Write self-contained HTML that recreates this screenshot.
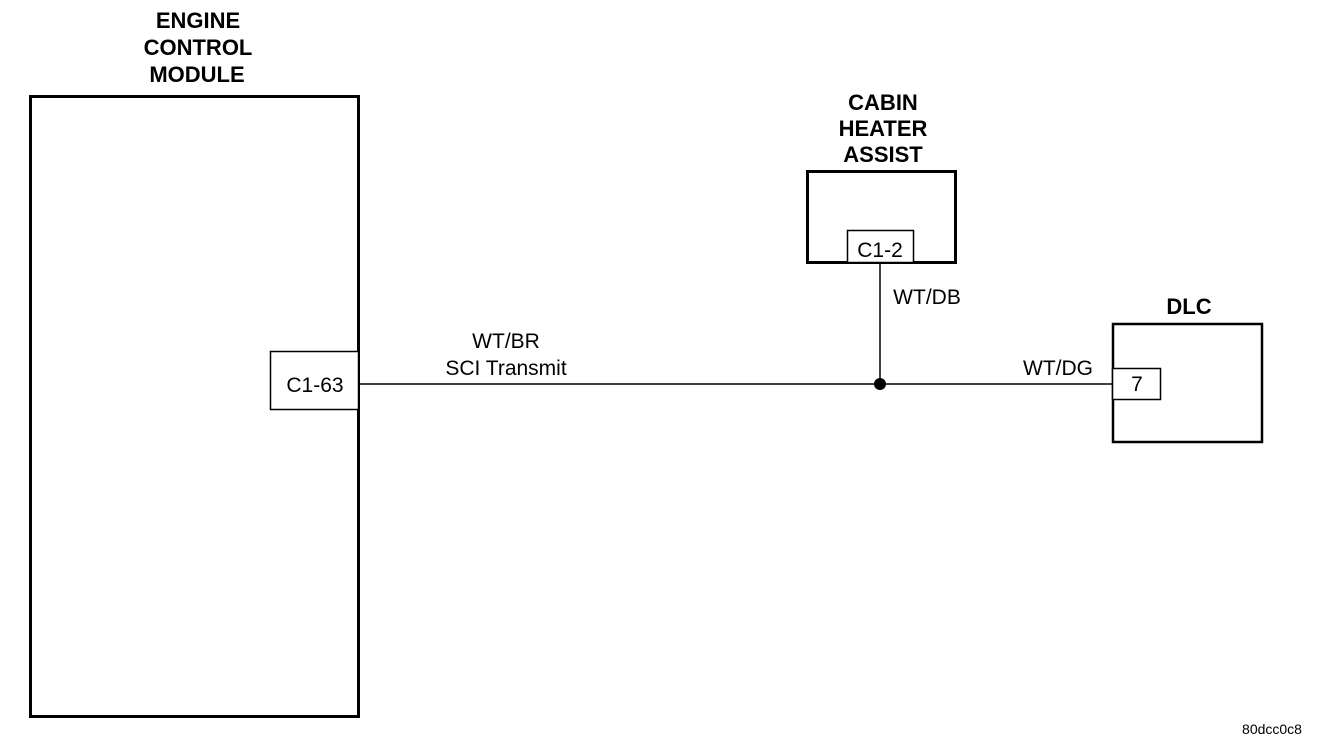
<!DOCTYPE html>
<html><head><style>
body{margin:0;background:#fff;}
svg{display:block;font-family:"Liberation Sans",Arial,sans-serif;}
</style></head><body>
<svg width="1328" height="752" viewBox="0 0 1328 752">
<rect width="1328" height="752" fill="#fff"/>
<g font-weight="bold" font-size="22" text-anchor="middle" fill="#000">
<text x="198" y="28">ENGINE</text>
<text x="198" y="55">CONTROL</text>
<text x="197" y="82">MODULE</text>
<text x="883" y="110">CABIN</text>
<text x="883" y="136">HEATER</text>
<text x="883" y="162">ASSIST</text>
<text x="1189" y="314">DLC</text>
</g>
<rect x="30.5" y="96.5" width="328" height="620" fill="none" stroke="#000" stroke-width="3"/>
<rect x="270.5" y="351.5" width="88" height="58" fill="#fff" stroke="#000" stroke-width="1.5"/>
<line x1="359" y1="384" x2="1112" y2="384" stroke="#000" stroke-width="1.5"/>
<rect x="807.5" y="171.5" width="148" height="91" fill="none" stroke="#000" stroke-width="3"/>
<rect x="847.5" y="230.5" width="66" height="32" fill="#fff" stroke="#000" stroke-width="1.5"/>
<line x1="880" y1="263" x2="880" y2="384" stroke="#000" stroke-width="1.5"/>
<circle cx="880" cy="384" r="6" fill="#000"/>
<rect x="1113" y="324" width="149" height="118" fill="none" stroke="#000" stroke-width="2.5"/>
<rect x="1112.5" y="368.5" width="48" height="31" fill="#fff" stroke="#000" stroke-width="1.5"/>
<g font-size="21" fill="#000" text-anchor="middle">
<text x="315" y="392">C1-63</text>
<text x="880" y="257">C1-2</text>
<text x="1137" y="391">7</text>
<text x="506" y="348">WT/BR</text>
<text x="506" y="375">SCI Transmit</text>
<text x="927" y="304">WT/DB</text>
<text x="1058" y="375">WT/DG</text>
</g>
<text x="1272" y="734" font-size="14" text-anchor="middle" fill="#000">80dcc0c8</text>
</svg>
</body></html>
